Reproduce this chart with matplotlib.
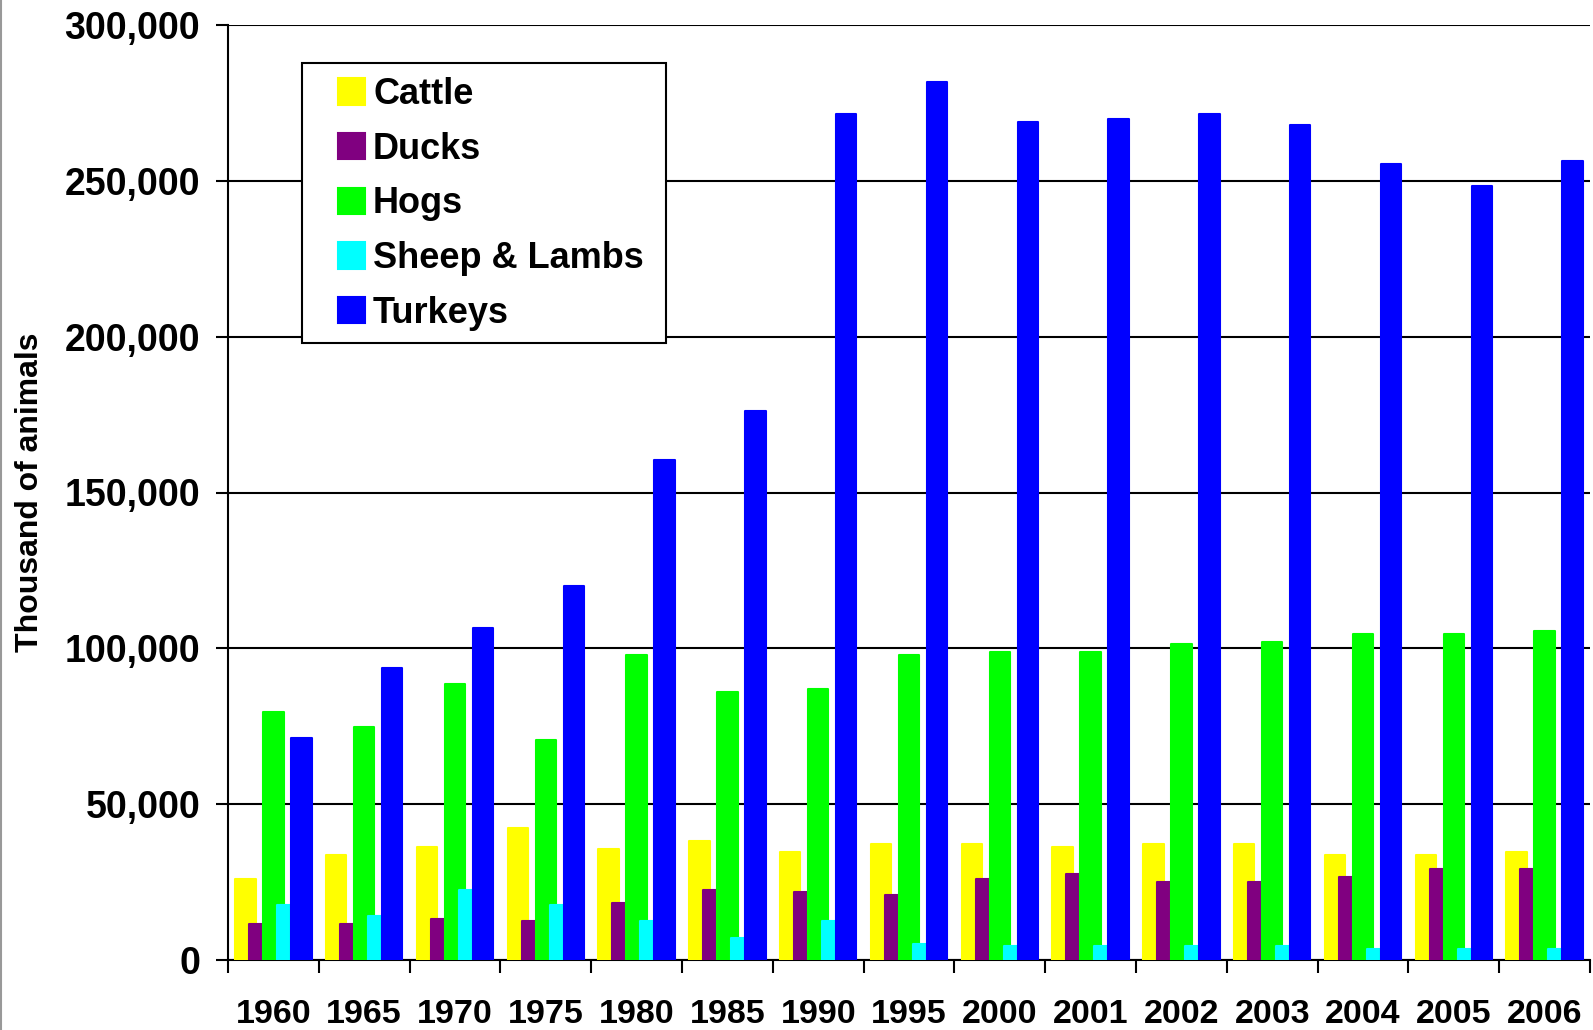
import numpy as np
import matplotlib.pyplot as plt
from matplotlib.lines import Line2D
from matplotlib.patches import Rectangle

years = ['1960', '1965', '1970', '1975', '1980', '1985', '1990', '1995',
         '2000', '2001', '2002', '2003', '2004', '2005', '2006']

cattle = [26000, 33800, 36400, 42300, 35500, 38100, 34500, 37100,
          37100, 36400, 37100, 37100, 33800, 33800, 34500]
ducks = [11400, 11400, 13000, 12400, 18200, 22400, 21800, 20800,
         26000, 27700, 25000, 25000, 26700, 29300, 29300]
hogs = [79700, 74800, 88500, 70600, 97900, 85900, 86900, 97900,
        98900, 98900, 101500, 102100, 104700, 104700, 105700]
sheep = [17600, 14000, 22400, 17600, 12400, 7200, 12400, 5200,
         4600, 4600, 4600, 4600, 3600, 3600, 3600]
turkeys = [71200, 93700, 106400, 120000, 160400, 176000, 271600, 281700,
           269000, 269700, 271600, 268000, 255400, 248500, 256300]

series = [('Cattle', cattle, '#FFFF00'),
          ('Ducks', ducks, '#800080'),
          ('Hogs', hogs, '#00FF00'),
          ('Sheep & Lambs', sheep, '#00FFFF'),
          ('Turkeys', turkeys, '#0000FF')]

plt.rcParams['font.family'] = ['Liberation Sans', 'DejaVu Sans']
plt.rcParams['font.weight'] = 'bold'

fig = plt.figure(figsize=(15.93, 10.30), dpi=100)
ax = fig.add_axes([228/1593, 70/1030, 1362/1593, 935/1030])

x = np.arange(len(years))
step = 0.154
width = 0.225
for i, (name, vals, col) in enumerate(series):
    ax.bar(x + (i - 2) * step, vals, width, color=col, edgecolor=col,
           linewidth=1.5, joinstyle='round', label=name, zorder=3 + i)

ax.set_xlim(-0.5, len(years) - 0.5)
ax.set_ylim(0, 300000)
ax.set_yticks(np.arange(0, 300001, 50000))
ax.set_yticklabels([f'{v:,}' for v in range(0, 300001, 50000)], fontsize=27, fontweight='bold')
ax.yaxis.grid(True, color='black', linewidth=1.5, zorder=0)
ax.set_axisbelow(True)

ax.set_xticks(np.arange(-0.5, len(years), 1.0))
ax.set_xticklabels([])
ax.set_xticks(x, minor=True)
ax.set_xticklabels(years, minor=True, fontsize=24.5, fontweight='bold')
ax.tick_params(axis='x', which='major', length=9, width=1.5, direction='out')
ax.tick_params(axis='x', which='minor', length=0, pad=28)
ax.tick_params(axis='y', length=9, width=1.5, pad=11)

for s in ['top', 'right']:
    ax.spines[s].set_visible(False)
for s in ['left', 'bottom']:
    ax.spines[s].set_linewidth(1.5)

ax.set_ylabel('Thousand of animals', fontsize=23, fontweight='bold', labelpad=14)

# legend: entries without frame, frame drawn separately
leg = ax.legend(loc='upper left', bbox_to_anchor=(338/1593, 1 - 77/1030),
                bbox_transform=fig.transFigure, borderaxespad=0,
                fontsize=26, frameon=False,
                handlelength=0.75, handleheight=0.75, handletextpad=0.22,
                labelspacing=0.545, borderpad=0)
leg.set_zorder(20)
for t in leg.get_texts():
    t.set_fontweight('bold')

frame = Rectangle((302/1593, 1 - 343/1030), 364/1593, 280/1030,
                  transform=fig.transFigure, facecolor='white',
                  edgecolor='black', linewidth=1.5, zorder=15)
fig.add_artist(frame)
fig.add_artist(leg)

fig.add_artist(Line2D([0.5/1593, 0.5/1593], [0, 1], color='#999999', linewidth=1.5,
                      transform=fig.transFigure))

fig.savefig('out.png', dpi=100)
